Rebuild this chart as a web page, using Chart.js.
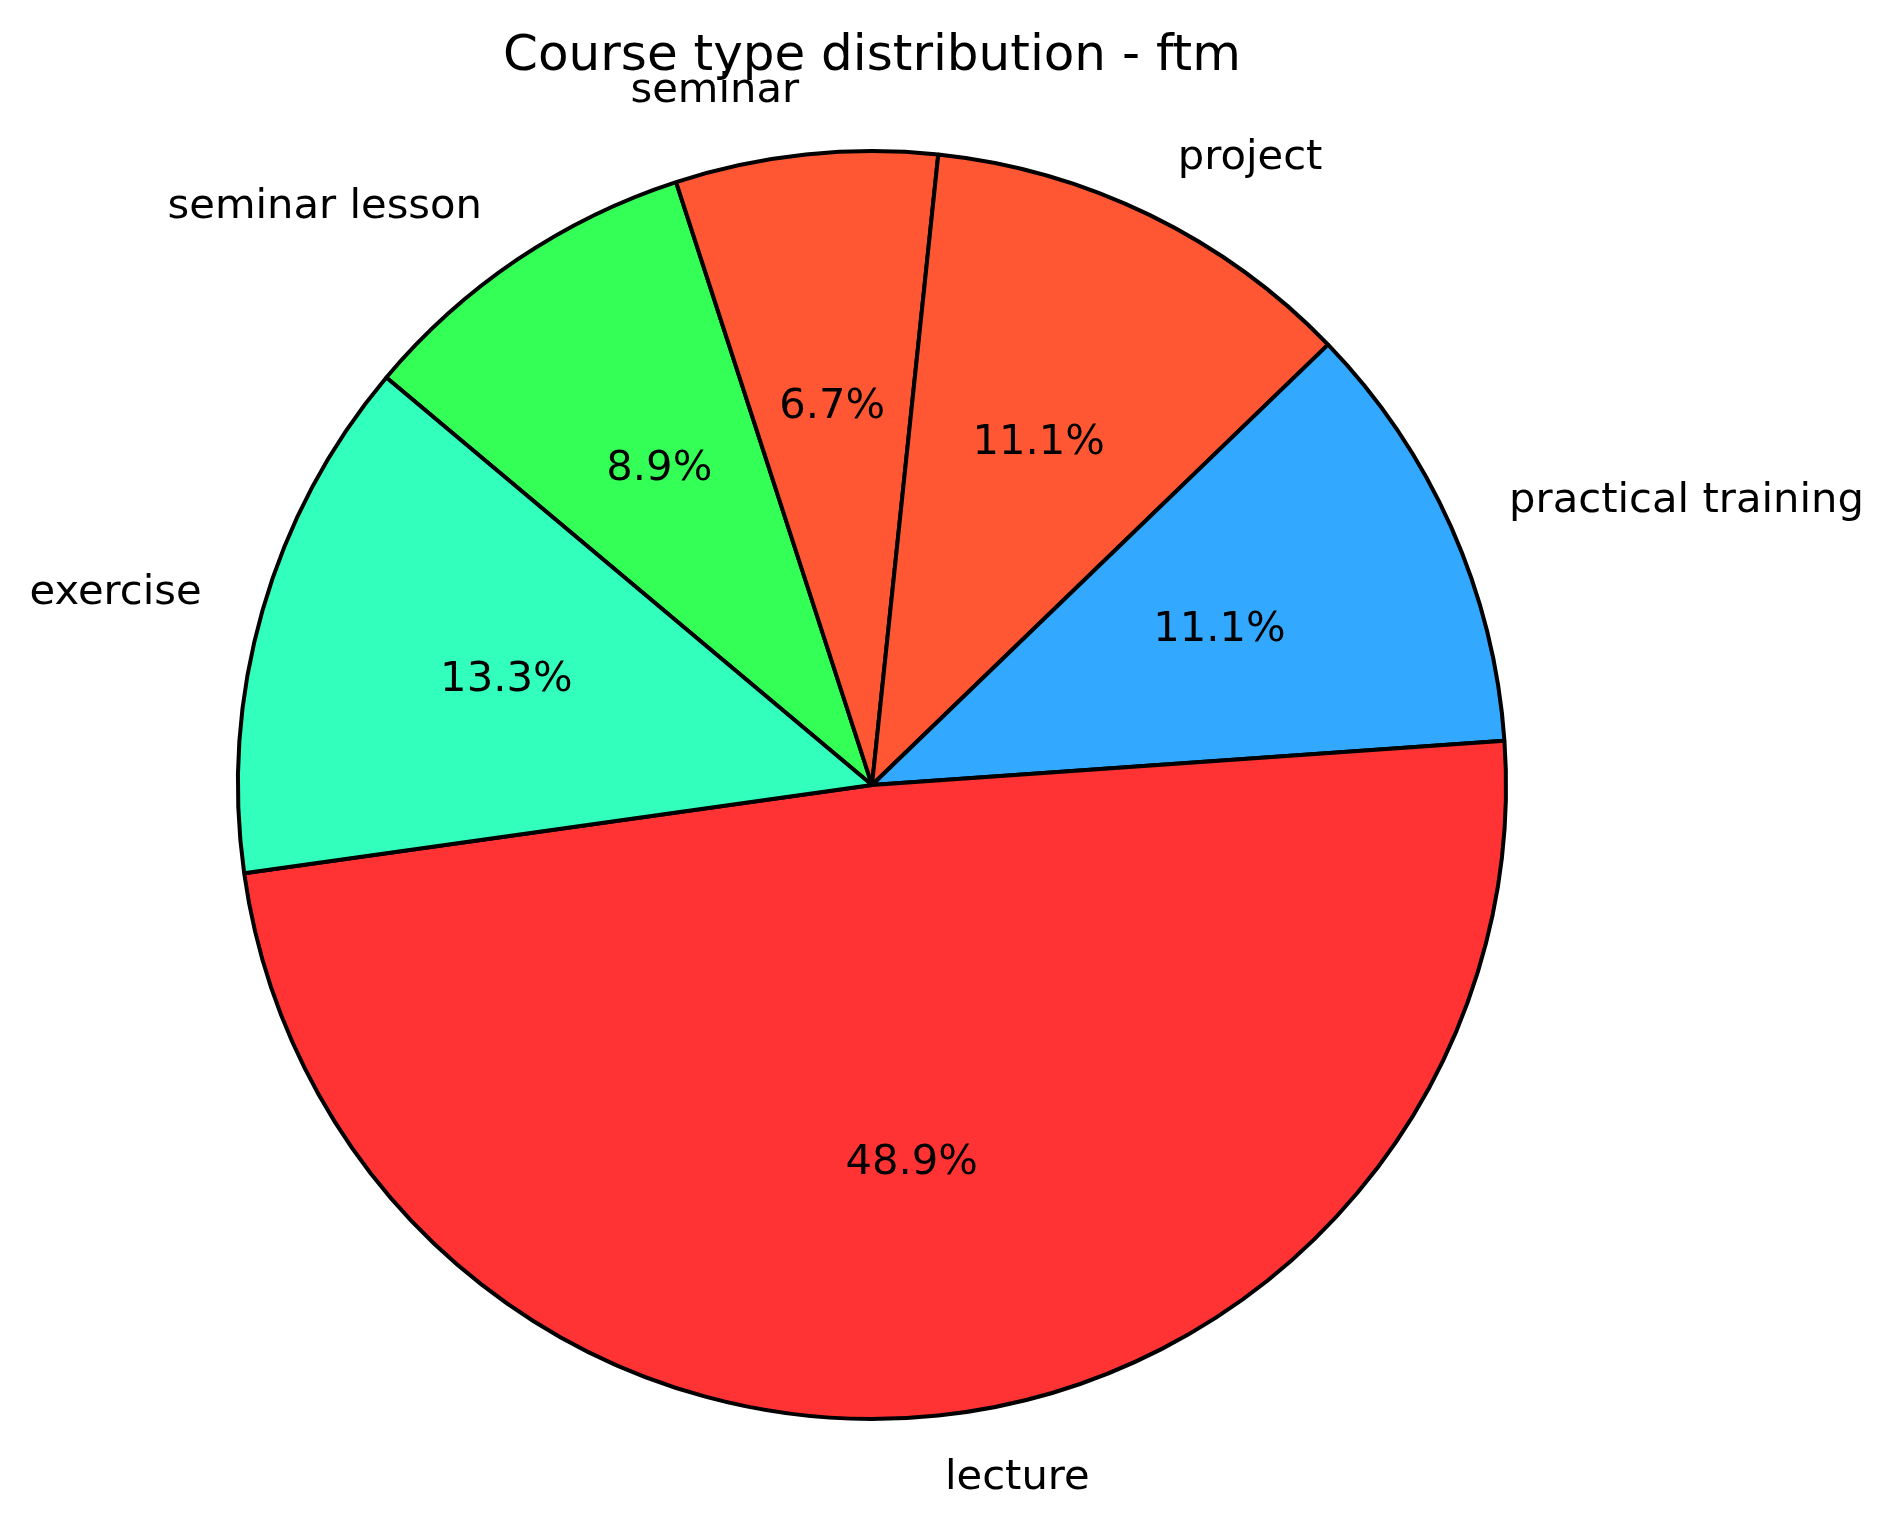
<!DOCTYPE html>
<html>
<head>
<meta charset="utf-8">
<script src="https://cdn.jsdelivr.net/npm/chart.js@4.4.0/dist/chart.umd.min.js"></script>
<style>
  body { margin: 0; background: #fff; }
  canvas { display: block; }
</style>
</head>
<body>
<canvas id="myChart" width="1893" height="1529"></canvas>
<script>
// course types, in the order the source lists them (alphabetical)
const categories = ['exercise', 'lecture', 'practical training', 'project', 'seminar', 'seminar lesson'];
const counts = [6, 22, 5, 5, 3, 4];
const sliceColors = ['#33FFBD', '#FF3333', '#33A8FF', '#FF5733', '#FF5733', '#33FF57'];
const chartTitle = 'Course type distribution - ftm';

// matplotlib goes counter-clockwise, chart.js clockwise -> reverse
const labels = categories.slice().reverse();
const data = counts.slice().reverse();
const colors = sliceColors.slice().reverse();
const total = counts.reduce((a, b) => a + b, 0);

const pieText = {
    id: 'pieText',
    afterDraw(chart) {
        const ctx = chart.ctx;
        ctx.save();
        ctx.fillStyle = '#000';
        ctx.font = '50px "DejaVu Sans"';
        ctx.textAlign = 'center';
        ctx.textBaseline = 'alphabetic';
        ctx.fillText(chartTitle, 872, 70);

        ctx.font = '41.7px "DejaVu Sans"';
        ctx.textBaseline = 'middle';
        const meta = chart.getDatasetMeta(0);
        meta.data.forEach((arc, i) => {
            const p = arc.getProps(['x', 'y', 'startAngle', 'endAngle', 'outerRadius'], true);
            const mid = (p.startAngle + p.endAngle) / 2;
            const cx = Math.cos(mid), cy = Math.sin(mid);
            // category label outside
            ctx.textAlign = cx >= 0 ? 'left' : 'right';
            ctx.fillText(labels[i], p.x + cx * p.outerRadius * 1.1, p.y + cy * p.outerRadius * 1.1);
            // percentage inside
            ctx.textAlign = 'center';
            const pct = (data[i] / total * 100).toFixed(1) + '%';
            ctx.fillText(pct, p.x + cx * p.outerRadius * 0.6, p.y + cy * p.outerRadius * 0.6);
        });
        ctx.restore();
    }
};

new Chart(document.getElementById('myChart'), {
    type: 'pie',
    data: {
        labels: labels,
        datasets: [{
            data: data,
            backgroundColor: colors,
            borderColor: '#000',
            borderWidth: 4,
            radius: 634
        }]
    },
    options: {
        responsive: false,
        devicePixelRatio: 1,
        animation: false,
        rotation: -50,
        layout: {
            padding: { left: 238, right: 387, top: 151, bottom: 110 }
        },
        plugins: {
            legend: { display: false },
            tooltip: { enabled: false },
            title: { display: false }
        }
    },
    plugins: [pieText]
});
</script>
</body>
</html>
